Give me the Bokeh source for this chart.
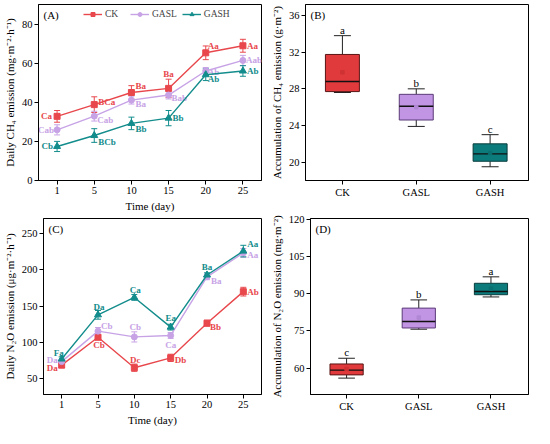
from bokeh.plotting import figure
from bokeh.layouts import column, row
from bokeh.models import Range1d, FixedTicker, Whisker, ColumnDataSource, Legend, LegendItem, TeeHead
from bokeh.core.properties import value
from bokeh.embed import file_html
from bokeh.resources import INLINE

# ---------------- data ----------------
days = ["1", "5", "10", "15", "20", "25"]
treatments = ["CK", "GASL", "GASH"]

# (A) daily CH4 emission (mg m-2 h-1)
ch4_ck = [32.8, 38.8, 45.0, 47.1, 65.3, 68.9]
ch4_ck_err = [3.0, 4.0, 3.5, 4.7, 3.5, 3.3]
ch4_gasl = [25.9, 32.9, 41.1, 43.7, 56.0, 61.4]
ch4_gasl_err = [2.6, 2.5, 2.0, 2.0, 1.8, 2.6]
ch4_gash = [17.4, 23.0, 29.2, 31.9, 54.1, 56.0]
ch4_gash_err = [2.6, 3.5, 3.2, 3.9, 3.0, 2.7]
ch4_ck_sig = ["Ca", "BCa", "Ba", "Ba", "Aa", "Aa"]
ch4_gasl_sig = ["Cab", "Cab", "Ba", "Bab", "Ab", "Aab"]
ch4_gash_sig = ["Cb", "BCb", "Bb", "Bb", "Ab", "Ab"]

# (C) daily N2O emission (ug m-2 h-1)
n2o_ck = [68.5, 107.0, 65.0, 78.6, 126.5, 170.0]
n2o_ck_err = [3.0, 3.0, 5.0, 5.0, 4.0, 6.0]
n2o_gasl = [73.4, 115.5, 107.5, 109.5, 190.5, 223.5]
n2o_gasl_err = [3.0, 5.0, 7.0, 4.0, 4.0, 6.0]
n2o_gash = [77.0, 138.0, 162.0, 121.0, 193.0, 226.0]
n2o_gash_err = [3.0, 6.0, 4.0, 4.0, 3.0, 8.0]
n2o_ck_sig = ["Da", "Cb", "Dc", "Db", "Bb", "Ab"]
n2o_gasl_sig = ["Da", "Cb", "Cb", "Ca", "Ba", "Aa"]
n2o_gash_sig = ["Fa", "Da", "Ca", "Ea", "Ba", "Aa"]

# (B) accumulated CH4 (g m-2): lower whisker, Q1, median, Q3, upper whisker, mean
acc_ch4_low = [27.6, 23.9, 19.5]
acc_ch4_q1 = [27.7, 24.6, 20.1]
acc_ch4_med = [28.8, 26.1, 20.9]
acc_ch4_q3 = [31.75, 27.4, 22.0]
acc_ch4_high = [33.8, 28.0, 23.0]
acc_ch4_mean = [29.8, 26.0, 21.0]
acc_ch4_sig = ["a", "b", "c"]

# (D) accumulated N2O (mg m-2)
acc_n2o_low = [56.0, 75.7, 88.7]
acc_n2o_q1 = [57.3, 76.2, 89.6]
acc_n2o_med = [59.2, 78.8, 90.9]
acc_n2o_q3 = [61.7, 84.2, 94.2]
acc_n2o_high = [64.0, 87.5, 96.8]
acc_n2o_mean = [59.7, 80.4, 92.0]
acc_n2o_sig = ["c", "b", "a"]

# ---------------- style ----------------
FONT = "Liberation Serif"
RED, LAV, TEAL = "#E8474C", "#C7A3E6", "#138C8C"
BOX_FILL = ["#E03A3C", "#C195E3", "#0C7B7C"]
BOX_LINE = ["#5a1515", "#5b3a78", "#0a3d3d"]
MEAN_COL = ["#cf3234", "#b088d4", "#0b7071"]

W, H = 267, 214


def make_fig(xr, yr, yticks, xticks, xlabels, ylabel, xlabel):
    p = figure(width=W, height=H, output_backend="svg", toolbar_location=None,
               x_range=Range1d(*xr), y_range=Range1d(*yr),
               min_border_left=37, min_border_right=6, min_border_top=4, min_border_bottom=31)
    p.xgrid.visible = False
    p.ygrid.visible = False
    p.outline_line_color = "black"
    p.outline_line_alpha = 1
    p.outline_line_width = 1
    p.background_fill_color = "white"
    p.border_fill_color = "white"
    p.yaxis.ticker = FixedTicker(ticks=yticks)
    p.xaxis.ticker = FixedTicker(ticks=xticks)
    p.xaxis.major_label_overrides = {t: l for t, l in zip(xticks, xlabels)}
    for ax in p.axis:
        ax.major_label_text_font = FONT
        ax.major_label_text_font_size = "10.5px"
        ax.major_label_text_color = "black"
        ax.axis_label_text_font = FONT
        ax.axis_label_text_font_size = "11px"
        ax.axis_label_text_font_style = "normal"
        ax.axis_label_text_color = "black"
        ax.minor_tick_line_color = None
        ax.major_tick_in = 0
        ax.major_tick_out = 4
        ax.major_tick_line_color = "black"
        ax.axis_line_color = "black"
        ax.major_label_standoff = 2
        ax.axis_label_standoff = 3
    p.yaxis.axis_label = ylabel
    if xlabel:
        p.xaxis.axis_label = xlabel
    return p


def panel_tag(p, tag, xr, yr):
    p.text(x=[xr[0]], y=[yr[1]], text=[tag], x_offset=5, y_offset=10,
           text_font=value(FONT), text_font_size="11px", text_color="black",
           text_align="left", text_baseline="middle")


def add_series(p, vals, errs, color, marker, size, sig, offs):
    xs = list(range(len(days)))
    src = ColumnDataSource(dict(x=xs, y=vals,
                                lo=[v - e for v, e in zip(vals, errs)],
                                hi=[v + e for v, e in zip(vals, errs)]))
    ln = p.line("x", "y", source=src, line_color=color, line_width=1.4)
    wk = Whisker(base="x", upper="hi", lower="lo", source=src, line_color=color, line_width=1,
                 upper_head=TeeHead(size=6, line_color=color, line_width=1),
                 lower_head=TeeHead(size=6, line_color=color, line_width=1))
    p.add_layout(wk)
    sc = p.scatter("x", "y", source=src, marker=marker, size=size, fill_color=color, line_color=color)
    for i, (lab, (al, dx, dy)) in enumerate(zip(sig, offs)):
        p.text(x=[xs[i]], y=[vals[i]], text=[lab], x_offset=dx, y_offset=dy,
               text_font=value(FONT), text_font_size="9px", text_font_style="bold",
               text_color=color, text_align=al, text_baseline="middle")
    return ln, sc


def add_boxes(p, low, q1, med, q3, high, mean, sig):
    xs = list(range(len(treatments)))
    hw, cw = 0.23, 0.115
    p.segment(x0=xs, y0=q3, x1=xs, y1=high, line_color="#222222", line_width=1)
    p.segment(x0=xs, y0=q1, x1=xs, y1=low, line_color="#222222", line_width=1)
    p.segment(x0=[x - cw for x in xs], y0=high, x1=[x + cw for x in xs], y1=high,
              line_color="#222222", line_width=1)
    p.segment(x0=[x - cw for x in xs], y0=low, x1=[x + cw for x in xs], y1=low,
              line_color="#222222", line_width=1)
    p.vbar(x=xs, width=2 * hw, bottom=q1, top=q3, fill_color=BOX_FILL, line_color=BOX_LINE,
           line_width=1)
    p.segment(x0=[x - hw for x in xs], y0=med, x1=[x + hw for x in xs], y1=med,
              line_color="#111111", line_width=1.3)
    p.scatter(x=xs, y=mean, marker="square", size=3.5, fill_color=MEAN_COL, line_color=MEAN_COL)
    p.text(x=xs, y=high, text=sig, y_offset=-6, text_font=value(FONT), text_font_size="11px",
           text_color="black", text_align="center", text_baseline="middle")


xidx = list(range(len(days)))
tidx = list(range(len(treatments)))

# ----- (A) -----
xrA, yrA = (-0.5, 5.5), (0, 90)
pA = make_fig(xrA, yrA, [0, 20, 40, 60, 80], xidx, days,
              "Daily CH\u2084 emission (mg\u00b7m\u207b\u00b2\u00b7h\u207b\u00b9)", "Time (day)")
offA_ck = [("right", -5, 0), ("left", 4, -3), ("left", 4, -7), ("center", 0, -14), ("left", 2, -7), ("left", 4, 0)]
offA_gl = [("right", -3, 0), ("left", 3, 4), ("left", 4, 4), ("left", 3, 3), ("left", 2, 1), ("left", 3, 0)]
offA_gh = [("right", -4, 0), ("left", 4, 6), ("left", 4, 6), ("left", 4, 0), ("left", 2, 4), ("left", 4, 0)]
rA_ck = add_series(pA, ch4_ck, ch4_ck_err, RED, "square", 6, ch4_ck_sig, offA_ck)
rA_gl = add_series(pA, ch4_gasl, ch4_gasl_err, LAV, "circle", 6, ch4_gasl_sig, offA_gl)
rA_gh = add_series(pA, ch4_gash, ch4_gash_err, TEAL, "triangle", 7, ch4_gash_sig, offA_gh)
panel_tag(pA, "(A)", xrA, yrA)
leg = Legend(items=[LegendItem(label=t, renderers=list(r)) for t, r in zip(treatments, [rA_ck, rA_gl, rA_gh])],
             orientation="horizontal", location=(45, 161), border_line_color=None,
             background_fill_alpha=0, label_text_font=FONT, label_text_font_size="9.5px",
             glyph_width=19, glyph_height=10, label_height=10, label_standoff=3, spacing=5,
             padding=0, margin=0)
pA.add_layout(leg)

# ----- (B) -----
xrB, yrB = (-0.5, 2.52), (18.0, 37.2)
pB = make_fig(xrB, yrB, [20, 24, 28, 32, 36], tidx, treatments,
              "Accumulation of CH\u2084 emission (g\u00b7m\u207b\u00b2)", None)
add_boxes(pB, acc_ch4_low, acc_ch4_q1, acc_ch4_med, acc_ch4_q3, acc_ch4_high, acc_ch4_mean, acc_ch4_sig)
panel_tag(pB, "(B)", xrB, yrB)

# ----- (C) -----
xrC, yrC = (-0.5, 5.5), (28, 271)
pC = make_fig(xrC, yrC, [50, 100, 150, 200, 250], xidx, days,
              "Daily N\u2082O emission (\u03bcg\u00b7m\u207b\u00b2\u00b7h\u207b\u00b9)", "Time (day)")
offC_gh = [("center", -3, -6), ("center", 1, -8), ("center", 1, -7), ("center", 0, -9), ("center", 0, -8), ("left", 4, -7)]
offC_gl = [("right", -4, -2), ("left", 3, -5), ("center", 1, -10), ("center", 0, 10), ("left", 4, 4), ("left", 4, 2)]
offC_ck = [("right", -4, 3), ("center", 1, 8), ("center", 1, -8), ("left", 4, 2), ("left", 3, 4), ("left", 4, 0)]
add_series(pC, n2o_ck, n2o_ck_err, RED, "square", 6, n2o_ck_sig, offC_ck)
add_series(pC, n2o_gasl, n2o_gasl_err, LAV, "circle", 6, n2o_gasl_sig, offC_gl)
add_series(pC, n2o_gash, n2o_gash_err, TEAL, "triangle", 7, n2o_gash_sig, offC_gh)
panel_tag(pC, "(C)", xrC, yrC)

# ----- (D) -----
xrD, yrD = (-0.5, 2.52), (49.4, 120.3)
pD = make_fig(xrD, yrD, [60, 75, 90, 105, 120], tidx, treatments,
              "Accumulation of N\u2082O emission (mg\u00b7m\u207b\u00b2)", None)
add_boxes(pD, acc_n2o_low, acc_n2o_q1, acc_n2o_med, acc_n2o_q3, acc_n2o_high, acc_n2o_mean, acc_n2o_sig)
panel_tag(pD, "(D)", xrD, yrD)

layout = column(row(pA, pB), row(pC, pD))
open("out.html", "w").write(file_html(layout, INLINE))
